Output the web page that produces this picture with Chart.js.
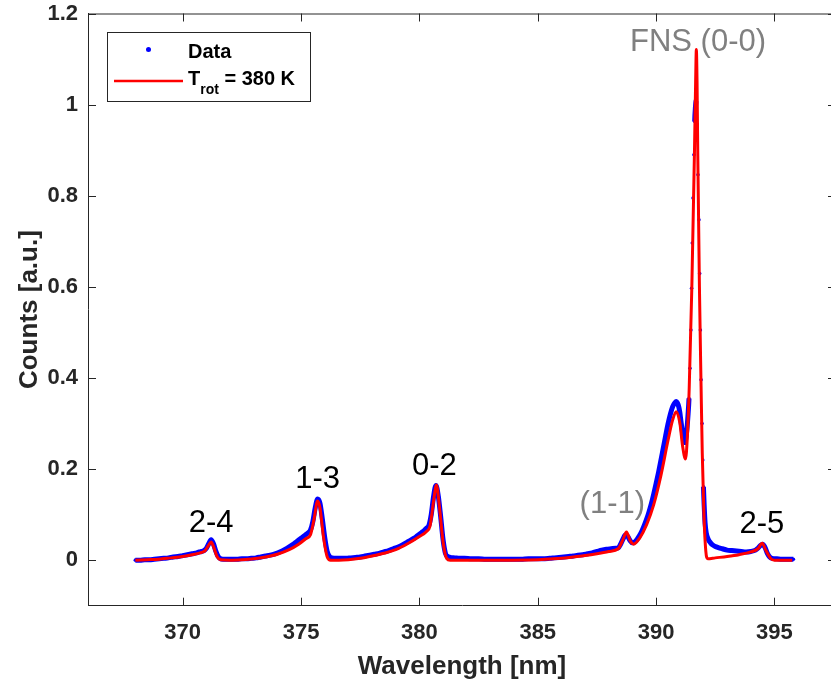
<!DOCTYPE html>
<html>
<head>
<meta charset="utf-8">
<script src="https://cdn.jsdelivr.net/npm/chart.js@4.4.1/dist/chart.umd.min.js"></script>
<style>
html, body { margin: 0; padding: 0; background: #fff; overflow: hidden; }
#wrap { width: 840px; height: 686px; }
</style>
</head>
<body>
<div id="wrap"><canvas id="specChart" width="840" height="686"></canvas></div>
<script>
// measured spectrum (blue dots)
const dataWl = [368.0, 368.2, 368.4, 368.6, 368.8, 369.0, 369.2, 369.4, 369.6, 369.8,
  370.0, 370.2, 370.4, 370.6, 370.7, 370.8, 370.9, 371.0, 371.1, 371.2,
  371.3, 371.4, 371.5, 371.6, 371.7, 371.9, 372.1, 372.3, 372.5, 372.7,
  372.9, 373.1, 373.3, 373.5, 373.7, 373.9, 374.1, 374.3, 374.5, 374.7,
  374.8, 374.9, 375.0, 375.1, 375.2, 375.3, 375.4, 375.5, 375.6, 375.7,
  375.8, 375.9, 376.0, 376.1, 376.2, 376.3, 376.5, 376.7, 376.9, 377.1,
  377.3, 377.5, 377.7, 377.9, 378.1, 378.3, 378.5, 378.7, 378.9, 379.1,
  379.3, 379.5, 379.6, 379.7, 379.8, 379.9, 380.0, 380.1, 380.2, 380.3,
  380.4, 380.5, 380.6, 380.7, 380.8, 380.9, 381.0, 381.1, 381.2, 381.3,
  381.5, 381.7, 381.9, 382.2, 382.5, 382.8, 383.1, 383.4, 383.7, 384.0,
  384.3, 384.6, 384.9, 385.2, 385.5, 385.7, 385.9, 386.1, 386.3, 386.5,
  386.7, 386.9, 387.1, 387.3, 387.5, 387.7, 387.9, 388.1, 388.3, 388.4,
  388.5, 388.6, 388.7, 388.8, 388.9, 389.0, 389.1, 389.2, 389.3, 389.4,
  389.5, 389.6, 389.7, 389.8, 389.9, 390.0, 390.1, 390.2, 390.3, 390.4,
  390.5, 390.6, 390.7, 390.8, 390.85, 390.9, 390.95, 391.0, 391.05, 391.1,
  391.15, 391.2, 391.25, 391.3, 391.35, 391.39, 391.43, 391.47, 391.5, 391.53,
  391.56, 391.6, 391.63, 391.66, 391.7, 391.73, 391.77, 391.81, 391.84, 391.87,
  391.9, 391.94, 391.97, 392.0, 392.03, 392.07, 392.12, 392.2, 392.3, 392.4,
  392.5, 392.6, 392.8, 393.0, 393.2, 393.4, 393.6, 393.8, 394.0, 394.2,
  394.3, 394.4, 394.5, 394.6, 394.7, 394.8, 394.9, 395.1, 395.3, 395.5,
  395.7, 395.8];
const dataCounts = [0.000, 0.000, 0.001, 0.001, 0.002, 0.003, 0.004, 0.005, 0.007, 0.008,
  0.010, 0.012, 0.014, 0.016, 0.018, 0.019, 0.021, 0.026, 0.036, 0.045,
  0.036, 0.020, 0.008, 0.003, 0.002, 0.002, 0.002, 0.002, 0.003, 0.003,
  0.004, 0.005, 0.007, 0.009, 0.011, 0.014, 0.018, 0.023, 0.029, 0.036,
  0.040, 0.044, 0.048, 0.052, 0.056, 0.060, 0.066, 0.085, 0.115, 0.134,
  0.125, 0.090, 0.050, 0.020, 0.008, 0.005, 0.004, 0.004, 0.004, 0.005,
  0.006, 0.007, 0.009, 0.011, 0.013, 0.015, 0.018, 0.021, 0.025, 0.029,
  0.034, 0.040, 0.043, 0.046, 0.049, 0.053, 0.057, 0.061, 0.065, 0.070,
  0.076, 0.100, 0.140, 0.164, 0.140, 0.095, 0.045, 0.015, 0.008, 0.006,
  0.005, 0.004, 0.004, 0.003, 0.003, 0.002, 0.002, 0.002, 0.002, 0.002,
  0.002, 0.003, 0.003, 0.003, 0.004, 0.005, 0.006, 0.007, 0.008, 0.009,
  0.011, 0.012, 0.014, 0.016, 0.019, 0.022, 0.024, 0.025, 0.026, 0.027,
  0.035, 0.046, 0.055, 0.052, 0.043, 0.038, 0.040, 0.046, 0.054, 0.064,
  0.076, 0.090, 0.106, 0.124, 0.145, 0.168, 0.192, 0.218, 0.245, 0.272,
  0.298, 0.320, 0.337, 0.346, 0.348, 0.345, 0.338, 0.325, 0.305, 0.286,
  0.268, 0.258, 0.265, 0.286, 0.320, 0.355, 0.421, 0.505, 0.597, 0.696,
  0.795, 0.890, 0.963, 0.993, 1.010, 0.927, 0.846, 0.747, 0.629, 0.505,
  0.396, 0.300, 0.220, 0.161, 0.121, 0.081, 0.059, 0.046, 0.038, 0.033,
  0.030, 0.028, 0.025, 0.022, 0.021, 0.020, 0.019, 0.018, 0.019, 0.022,
  0.026, 0.032, 0.035, 0.028, 0.015, 0.007, 0.004, 0.003, 0.002, 0.002,
  0.002, 0.002];

// simulated spectrum, T_rot = 380 K (red line)
const fitWl = [368.0, 368.5, 369.0, 369.5, 370.0, 370.5, 370.8, 370.95, 371.1, 371.2,
  371.3, 371.45, 371.6, 372.0, 372.5, 373.0, 373.5, 374.0, 374.5, 374.9,
  375.2, 375.4, 375.55, 375.7, 375.8, 375.95, 376.1, 376.25, 376.6, 377.0,
  377.5, 378.0, 378.5, 379.0, 379.5, 380.0, 380.3, 380.45, 380.6, 380.72,
  380.85, 381.0, 381.15, 381.3, 383.0, 385.0, 386.0, 386.5, 387.0, 387.5,
  388.0, 388.4, 388.6, 388.75, 388.9, 389.05, 389.3, 389.6, 389.9, 390.2,
  390.5, 390.7, 390.85, 391.0, 391.12, 391.24, 391.32, 391.4, 391.51, 391.62,
  391.67, 391.7, 391.73, 391.76, 391.83, 391.9, 391.95, 392.02, 392.1, 392.18,
  392.5, 393.0, 393.5, 394.0, 394.3, 394.48, 394.65, 394.85, 395.0, 395.75];
const fitCounts = [0.000, 0.001, 0.002, 0.005, 0.008, 0.013, 0.017, 0.021, 0.033, 0.040,
  0.030, 0.008, 0.001, 0.000, 0.001, 0.003, 0.007, 0.013, 0.023, 0.035,
  0.047, 0.056, 0.090, 0.130, 0.115, 0.050, 0.008, 0.000, 0.000, 0.001,
  0.004, 0.009, 0.015, 0.023, 0.036, 0.052, 0.063, 0.075, 0.130, 0.165,
  0.115, 0.040, 0.004, 0.000, 0.000, 0.001, 0.004, 0.007, 0.010, 0.014,
  0.019, 0.025, 0.045, 0.062, 0.043, 0.035, 0.048, 0.078, 0.122, 0.185,
  0.262, 0.308, 0.326, 0.302, 0.250, 0.222, 0.270, 0.380, 0.600, 0.894,
  1.050, 1.121, 1.050, 0.894, 0.600, 0.381, 0.235, 0.100, 0.020, 0.003,
  0.005, 0.008, 0.012, 0.018, 0.025, 0.037, 0.020, 0.003, 0.000, 0.000];

const xTicks = [370, 375, 380, 385, 390, 395];
const yTicks = [0, 0.2, 0.4, 0.6, 0.8, 1, 1.2];

// band labels: text, wavelength (nm), height (a.u.) of the text baseline
const bandLabels = ['2-4', '1-3', '0-2', '(1-1)', '2-5', 'FNS (0-0)'];
const bandWl = [371.2, 375.7, 380.63, 388.15, 394.47, 391.77];
const bandHeight = [0.0615, 0.158, 0.187, 0.103, 0.059, 1.117];
const bandGrey = [false, false, false, true, false, true];

const fontFam = '"Liberation Sans", Arial, Helvetica, sans-serif';
const axisColor = '#262626';

function toPoints(xs, ys) {
    return xs.map((v, i) => ({x: v, y: ys[i]}));
}

// MATLAB-like box: inward ticks, top/right spine, band labels and legend
const boxPlugin = {
    id: 'boxPlugin',
    afterDatasetsDraw(chart) {
        const ctx = chart.ctx;
        const a = chart.chartArea;
        const xs = chart.scales.x, ys = chart.scales.y;
        ctx.save();
        ctx.strokeStyle = axisColor;
        ctx.lineWidth = 1;
        ctx.beginPath();
        ctx.moveTo(a.left, a.top + 0.5);
        ctx.lineTo(a.right, a.top + 0.5);
        ctx.moveTo(a.right - 0.5, a.top);
        ctx.lineTo(a.right - 0.5, a.bottom);
        xTicks.forEach(v => {
            const px = Math.round(xs.getPixelForValue(v)) + 0.5;
            ctx.moveTo(px, a.bottom); ctx.lineTo(px, a.bottom - 8);
            ctx.moveTo(px, a.top); ctx.lineTo(px, a.top + 8);
        });
        yTicks.forEach(v => {
            const py = Math.round(ys.getPixelForValue(v)) + 0.5;
            ctx.moveTo(a.left, py); ctx.lineTo(a.left + 8, py);
            ctx.moveTo(a.right, py); ctx.lineTo(a.right - 8, py);
        });
        ctx.stroke();

        ctx.textAlign = 'center';
        ctx.textBaseline = 'alphabetic';
        ctx.font = '31px ' + fontFam;
        bandLabels.forEach((t, i) => {
            ctx.fillStyle = bandGrey[i] ? '#808080' : '#000000';
            ctx.fillText(t, xs.getPixelForValue(bandWl[i]), ys.getPixelForValue(bandHeight[i]));
        });

        // legend
        ctx.fillStyle = '#ffffff';
        ctx.fillRect(107, 32, 204, 70);
        ctx.strokeStyle = axisColor;
        ctx.strokeRect(107.5, 32.5, 203, 69);
        ctx.fillStyle = '#0000ff';
        ctx.beginPath();
        ctx.arc(148.5, 49.5, 2.5, 0, Math.PI * 2);
        ctx.fill();
        ctx.strokeStyle = '#ff0000';
        ctx.lineWidth = 2.5;
        ctx.beginPath();
        ctx.moveTo(114, 81);
        ctx.lineTo(183, 81);
        ctx.stroke();
        ctx.fillStyle = '#000000';
        ctx.textAlign = 'left';
        ctx.font = 'bold 20px ' + fontFam;
        ctx.fillText('Data', 188, 58);
        let tx = 188;
        ctx.fillText('T', tx, 85);
        tx += ctx.measureText('T').width;
        ctx.font = 'bold 14px ' + fontFam;
        ctx.fillText('rot', tx, 94);
        tx += ctx.measureText('rot').width;
        ctx.font = 'bold 20px ' + fontFam;
        ctx.fillText(' = 380 K', tx, 85);
        ctx.restore();
    }
};

const ctxL = document.getElementById('specChart').getContext('2d');
new Chart(ctxL, {
    type: 'line',
    data: {
        datasets: [{
            label: 'T_rot = 380 K',
            data: toPoints(fitWl, fitCounts),
            borderColor: '#ff0000',
            borderWidth: 3,
            pointRadius: 0,
            fill: false,
            cubicInterpolationMode: 'monotone',
            order: 0
        }, {
            label: 'Data',
            data: toPoints(dataWl, dataCounts),
            borderColor: '#0000ff',
            backgroundColor: '#0000ff',
            borderWidth: 5,
            pointRadius: 1.8,
            pointBorderWidth: 0,
            fill: false,
            cubicInterpolationMode: 'monotone',
            // dense dots look like a band; on the steep main peak only the dots show
            segment: {
                borderColor: c => Math.abs(c.p1.y - c.p0.y) > 25 ? 'rgba(0,0,255,0)' : undefined
            },
            order: 1
        }]
    },
    options: {
        responsive: false,
        animation: false,
        events: [],
        layout: {padding: {left: 0, right: 4, top: 13.5, bottom: 0}},
        plugins: {legend: {display: false}, tooltip: {enabled: false}},
        scales: {
            x: {
                type: 'linear',
                min: 366,
                max: 397.6,
                afterBuildTicks: s => { s.ticks = xTicks.map(v => ({value: v})); },
                afterFit: s => { s.height = 80.3; s.paddingLeft = 0; s.paddingRight = 0; },
                grid: {display: true, drawOnChartArea: false, drawTicks: false},
                border: {display: true, color: axisColor, width: 1},
                ticks: {
                    color: axisColor,
                    padding: 14,
                    maxRotation: 0,
                    font: {family: fontFam, size: 22, weight: 'bold'}
                },
                title: {
                    display: true,
                    text: 'Wavelength [nm]',
                    color: axisColor,
                    padding: {top: 0, bottom: 4},
                    font: {family: fontFam, size: 26, weight: 'bold'}
                }
            },
            y: {
                type: 'linear',
                min: -0.1,
                max: 1.2,
                afterBuildTicks: s => { s.ticks = yTicks.map(v => ({value: v})); },
                afterFit: s => { s.width = 88; s.paddingTop = 0; s.paddingBottom = 0; },
                grid: {display: true, drawOnChartArea: false, drawTicks: false},
                border: {display: true, color: axisColor, width: 1},
                ticks: {
                    color: axisColor,
                    padding: 10,
                    font: {family: fontFam, size: 22, weight: 'bold'},
                    callback: v => String(+v.toFixed(1))
                },
                title: {
                    display: true,
                    text: 'Counts [a.u.]',
                    color: axisColor,
                    padding: {top: 14, bottom: 0},
                    font: {family: fontFam, size: 26, weight: 'bold'}
                }
            }
        }
    },
    plugins: [boxPlugin]
});
</script>
</body>
</html>
